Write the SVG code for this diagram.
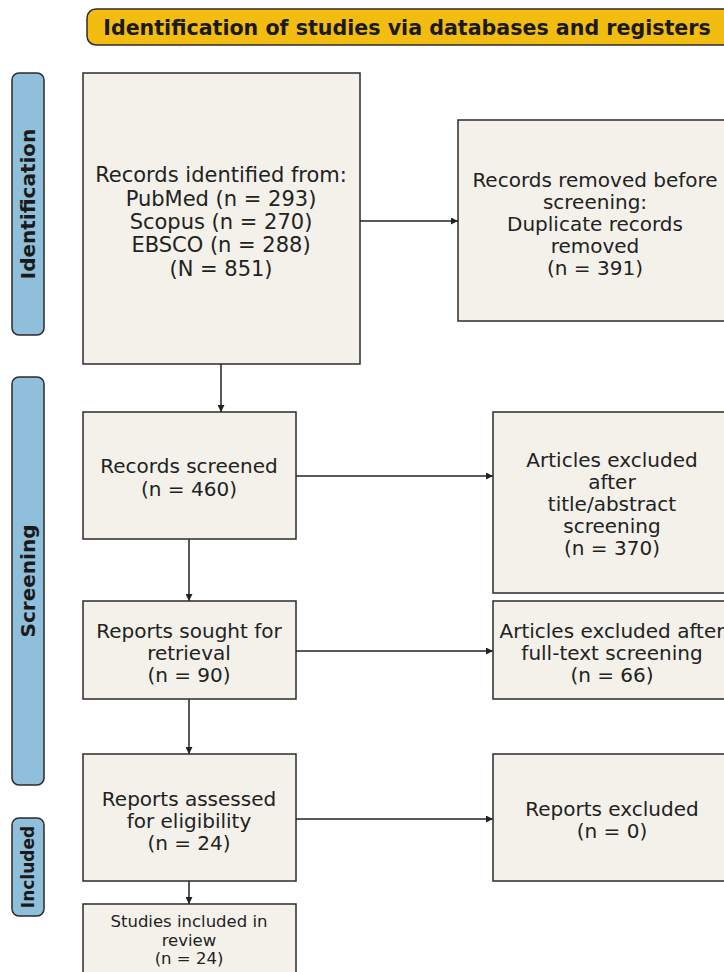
<svg xmlns="http://www.w3.org/2000/svg" width="724" height="972" viewBox="0 0 724 972">
<style>
.node{fill:#f3f1ea;stroke:#2b2b2b;stroke-width:1.5}
.side{fill:#8fbfda;stroke:#2b2b2b;stroke-width:1.5}
.t{font-family:"DejaVu Sans",sans-serif;font-size:20px;fill:#222;text-anchor:middle}
.t1{font-family:"DejaVu Sans",sans-serif;font-size:21px;fill:#222;text-anchor:middle}
.s{font-family:"DejaVu Sans",sans-serif;font-size:16.5px;fill:#222;text-anchor:middle}
.b{font-family:"DejaVu Sans",sans-serif;font-weight:bold;font-size:20px;fill:#1a1a1a;text-anchor:middle}
.h{font-family:"DejaVu Sans",sans-serif;font-weight:bold;font-size:20.6px;fill:#1a1a1a;text-anchor:middle}
.bs{font-family:"DejaVu Sans",sans-serif;font-weight:bold;font-size:17px;fill:#1a1a1a;text-anchor:middle}
.c{stroke:#222;stroke-width:1.5;fill:none;marker-end:url(#ah)}
</style>
<defs>
<marker id="ah" viewBox="0 0 10 10" refX="10" refY="5" markerWidth="7" markerHeight="7" orient="auto" markerUnits="userSpaceOnUse">
<path d="M0,0 L10,5 L0,10 z" fill="#222"/>
</marker>
</defs>
<rect width="724" height="972" fill="#fff"/>
<g id="header">
<rect x="87" y="9" width="645" height="36" rx="9" fill="#f2bd10" stroke="#2b2b2b" stroke-width="1.5"/>
<text class="h" x="407" y="34.5">Identification of studies via databases and registers</text>
</g>
<g id="side-identification">
<rect class="side" x="12" y="73" width="32" height="262" rx="7"/>
<text class="b" transform="translate(35,204) rotate(-90)">Identification</text>
</g>
<g id="side-screening">
<rect class="side" x="12" y="377" width="32" height="408" rx="7"/>
<text class="b" transform="translate(35,581) rotate(-90)">Screening</text>
</g>
<g id="side-included">
<rect class="side" x="12" y="818" width="32" height="98" rx="7"/>
<text class="bs" transform="translate(34,867) rotate(-90)">Included</text>
</g>
<g id="connectors">
<line class="c" x1="360" y1="221" x2="458" y2="221"/>
<line class="c" x1="221" y1="364" x2="221" y2="412"/>
<line class="c" x1="296" y1="476" x2="493" y2="476"/>
<line class="c" x1="189" y1="539" x2="189" y2="601"/>
<line class="c" x1="296" y1="651" x2="493" y2="651"/>
<line class="c" x1="189" y1="699" x2="189" y2="754"/>
<line class="c" x1="296" y1="819" x2="493" y2="819"/>
<line class="c" x1="189" y1="881" x2="189" y2="904"/>
</g>
<g id="n-identified">
<rect class="node" x="83" y="73" width="277" height="291"/>
<text class="t1" x="221" y="182">Records identified from:</text>
<text class="t1" x="221" y="205.5">PubMed (n = 293)</text>
<text class="t1" x="221" y="229">Scopus (n = 270)</text>
<text class="t1" x="221" y="252">EBSCO (n = 288)</text>
<text class="t1" x="221" y="275.5">(N = 851)</text>
</g>
<g id="n-removed">
<rect class="node" x="458" y="120" width="275" height="201"/>
<text class="t" x="595" y="187">Records removed before</text>
<text class="t" x="595" y="209">screening:</text>
<text class="t" x="595" y="231">Duplicate records</text>
<text class="t" x="595" y="253">removed</text>
<text class="t" x="595" y="275">(n = 391)</text>
</g>
<g id="n-screened">
<rect class="node" x="83" y="412" width="213" height="127"/>
<text class="t" x="189" y="473">Records screened</text>
<text class="t" x="189" y="496">(n = 460)</text>
</g>
<g id="n-excl1">
<rect class="node" x="493" y="412" width="240" height="181"/>
<text class="t" x="612" y="467">Articles excluded</text>
<text class="t" x="612" y="489">after</text>
<text class="t" x="612" y="511">title/abstract</text>
<text class="t" x="612" y="533">screening</text>
<text class="t" x="612" y="555">(n = 370)</text>
</g>
<g id="n-sought">
<rect class="node" x="83" y="601" width="213" height="98"/>
<text class="t" x="189" y="638">Reports sought for</text>
<text class="t" x="189" y="660">retrieval</text>
<text class="t" x="189" y="682">(n = 90)</text>
</g>
<g id="n-excl2">
<rect class="node" x="493" y="601" width="240" height="98"/>
<text class="t" x="612" y="638">Articles excluded after</text>
<text class="t" x="612" y="660">full-text screening</text>
<text class="t" x="612" y="682">(n = 66)</text>
</g>
<g id="n-assessed">
<rect class="node" x="83" y="754" width="213" height="127"/>
<text class="t" x="189" y="806">Reports assessed</text>
<text class="t" x="189" y="828">for eligibility</text>
<text class="t" x="189" y="850">(n = 24)</text>
</g>
<g id="n-excl3">
<rect class="node" x="493" y="754" width="240" height="127"/>
<text class="t" x="612" y="816">Reports excluded</text>
<text class="t" x="612" y="838">(n = 0)</text>
</g>
<g id="n-included">
<rect class="node" x="83" y="904" width="213" height="80"/>
<text class="s" x="189" y="927">Studies included in</text>
<text class="s" x="189" y="945.5">review</text>
<text class="s" x="189" y="964">(n = 24)</text>
</g>
</svg>
